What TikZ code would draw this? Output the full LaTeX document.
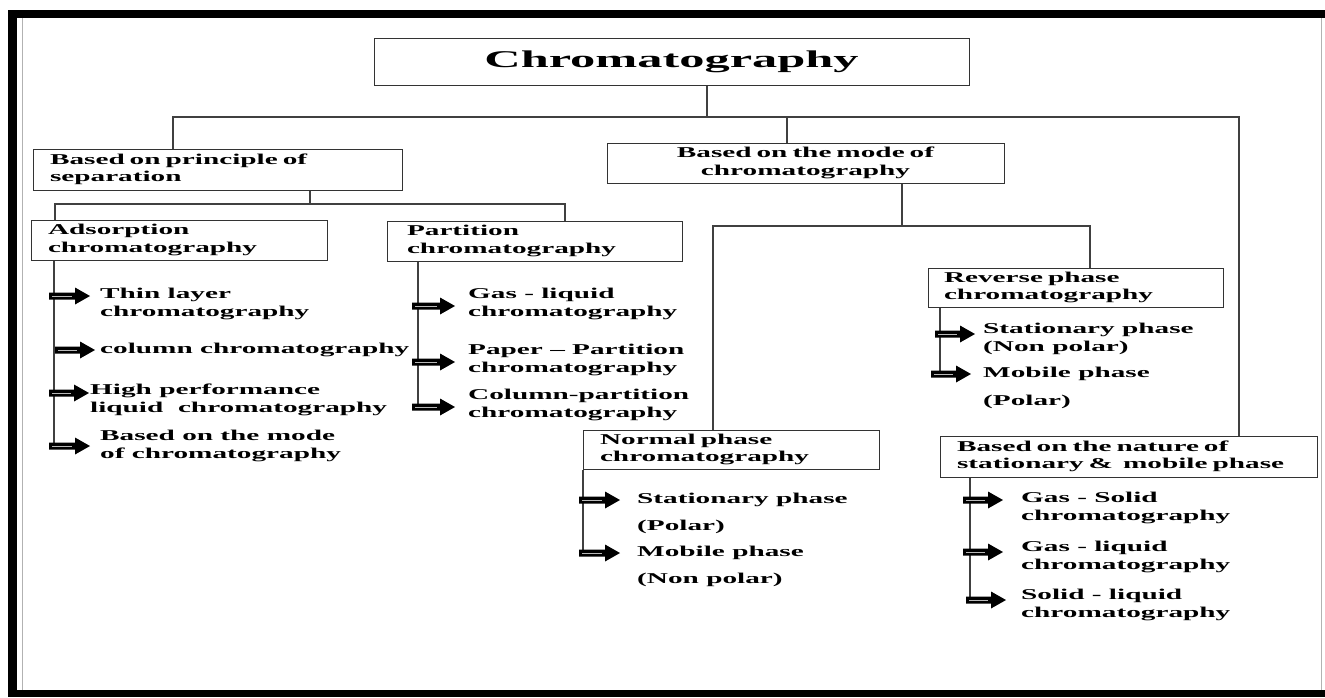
\documentclass[tikz,border=0pt]{standalone}
\usepackage{fontspec}
\setmainfont{Liberation Serif}[FakeStretch=1.95]
\newfontfamily\titlefont{Liberation Serif}[FakeStretch=2.1]
\newcommand\barrow[3]{%
  \fill[black] (#1,#2-3.5) -- (#1+#3-15,#2-3.5) -- (#1+#3-15,#2-8.5) -- (#1+#3,#2)
     -- (#1+#3-15,#2+8.5) -- (#1+#3-15,#2+3.5) -- (#1,#2+3.5) -- cycle;
  \draw[gray!55,line width=1pt] (#1+3,#2) -- (#1+#3-18,#2);}
\begin{document}
\begin{tikzpicture}[x=1pt,y=-1pt,
  txt/.style={font=\fontsize{15}{17.5}\selectfont\bfseries},
  box/.style={txt,draw=black!80,line width=1pt,minimum height=40pt,inner xsep=17pt,inner ysep=0pt,align=left},
  item/.style={txt,anchor=west,inner sep=0pt,align=left},
  tree/.style={draw=black!75,line width=1.1pt}]
\useasboundingbox (0,0) rectangle (1325,697);
\fill[white] (0,0) rectangle (1325,697);
% frame
\fill[black] (8,10) rectangle (1325,18);
\fill[black] (8,10) rectangle (17,697);
\fill[black] (8,690) rectangle (1325,697);
\draw[black!30,line width=0.8pt] (22,18) -- (22,690);
\draw[black!30,line width=0.8pt] (1321,18) -- (1321,690);
% boxes
\node[draw=black!80,line width=1pt,minimum width=595pt,minimum height=47pt,inner sep=0pt,
      font=\titlefont\fontsize{24}{28}\selectfont\bfseries] (title) at (671.5,61.5) {Chromatography};
\node[box,text width=335pt,minimum height=41pt] (principle) at (217.5,169.5)
  {\mbox{Based on principle of}\\\mbox{separation}};
\node[box,align=center,text width=363pt] (mode) at (805.5,163)
  {\mbox{Based on the mode of}\\\mbox{chromatography}};
\node[box,text width=262pt] (adsorption) at (179,240)
  {\mbox{Adsorption}\\\mbox{chromatography}};
\node[box,text width=255pt,inner xsep=20pt] (partition) at (534.5,241)
  {\mbox{Partition}\\\mbox{chromatography}};
\node[box,text width=263pt,inner xsep=16pt,minimum height=39pt] (reverse) at (1075.5,287.5)
  {\mbox{Reverse phase}\\\mbox{chromatography}};
\node[box,text width=262pt,minimum height=39pt] (normal) at (731,449.5)
  {\mbox{Normal phase}\\\mbox{chromatography}};
\node[box,text width=343pt,minimum height=41pt] (nature) at (1128.5,456.5)
  {\mbox{Based on the nature of}\\\mbox{stationary \&\ \ mobile phase}};
% tree connectors
\coordinate (j0) at (707,117);
\coordinate (bL) at (173,117);
\coordinate (bM) at (787,117);
\coordinate (bR) at (1239,117);
\draw[tree] (title.south -| j0) -- (j0);
\draw[tree] (bL |- principle.north) -- (bL) -- (bR) -- (bR |- nature.north);
\draw[tree] (bM) -- (bM |- mode.north);
\coordinate (p0) at (310,204);
\coordinate (pL) at (55,204);
\coordinate (pR) at (565,204);
\draw[tree] (principle.south -| p0) -- (p0);
\draw[tree] (pL |- adsorption.north) -- (pL) -- (pR) -- (pR |- partition.north);
\coordinate (m0) at (902,226);
\coordinate (mL) at (713,226);
\coordinate (mR) at (1090,226);
\draw[tree] (mode.south -| m0) -- (m0);
\draw[tree] (mL |- normal.north) -- (mL) -- (mR) -- (mR |- reverse.north);
% adsorption items
\node[item] (thin) at (100,304) {Thin layer\\chromatography};
\node[item] (column) at (100,350) {column chromatography};
\node[item] (hplc) at (90,400) {High performance\\liquid\ \ chromatography};
\node[item] (basedmode) at (100,446) {Based on the mode\\of chromatography};
\coordinate (aV) at (54,446);
\draw[tree] (adsorption.south -| aV) -- (aV);
\barrow{49}{296}{41}
\barrow{55}{350}{40}
\barrow{49}{393}{40}
\barrow{49}{446}{41}
% partition items
\node[item] (gasliq) at (468,304) {Gas - liquid\\chromatography};
\node[item] (paper) at (468,360) {Paper -- Partition\\chromatography};
\node[item] (colpart) at (468,405) {Column-partition\\chromatography};
\coordinate (qV) at (418,407);
\draw[tree] (partition.south -| qV) -- (qV);
\barrow{412}{306}{43}
\barrow{412}{362}{43}
\barrow{412}{407}{43}
% reverse items
\node[item] (rstat) at (983,339) {Stationary phase\\(Non polar)};
\node[item] (rmob) at (983,388) {Mobile phase\\[10pt](Polar)};
\coordinate (rV) at (940,374);
\draw[tree] (reverse.south -| rV) -- (rV);
\barrow{935}{334}{40}
\barrow{931}{374}{40}
% normal items
\node[item] (nstat) at (637,513.5) {Stationary phase\\[9pt](Polar)};
\node[item] (nmob) at (637,566.5) {Mobile phase\\[9pt](Non polar)};
\coordinate (nV) at (583,553);
\draw[tree] (normal.south -| nV) -- (nV);
\barrow{579}{500}{41}
\barrow{579}{553}{41}
% nature items
\node[item] (gassolid) at (1021,508) {Gas - Solid\\chromatography};
\node[item] (gasliq2) at (1021,557) {Gas - liquid\\chromatography};
\node[item] (solidliq) at (1021,605) {Solid - liquid\\chromatography};
\coordinate (sV) at (970,600);
\draw[tree] (nature.south -| sV) -- (sV);
\barrow{963}{500}{40}
\barrow{963}{552}{40}
\barrow{966}{600}{40}
\end{tikzpicture}
\end{document}
